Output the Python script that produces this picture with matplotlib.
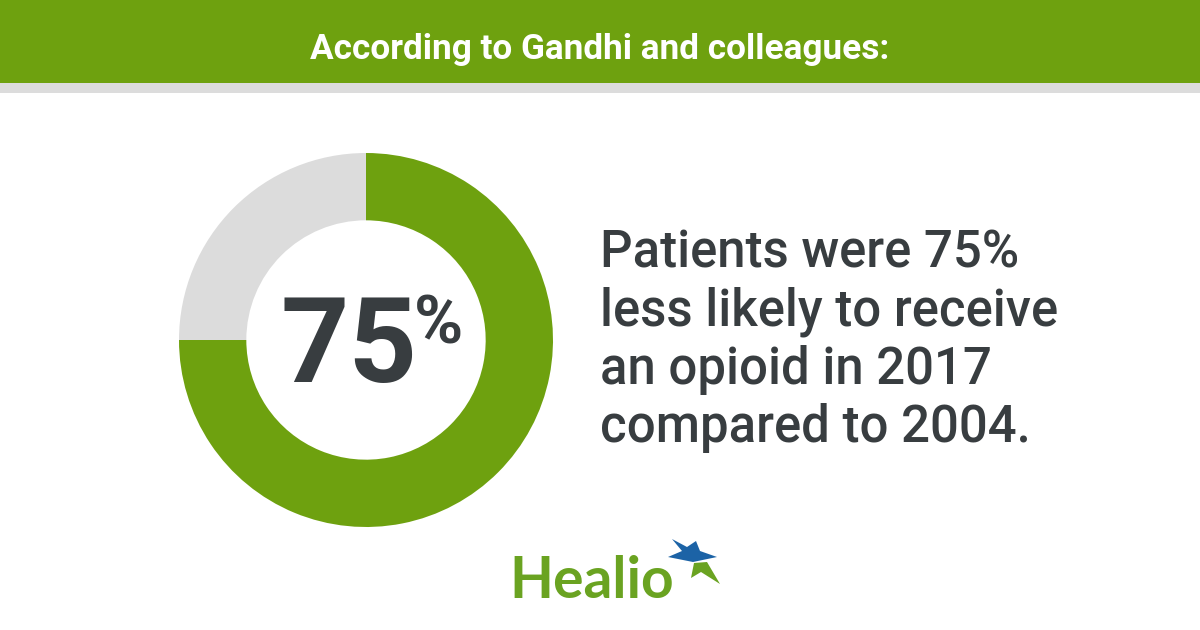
import matplotlib
matplotlib.use("Agg")
import matplotlib.pyplot as plt
import matplotlib.patches as mpatches

# data
shares = [75, 25]
share_names = ["less likely", "rest"]
big_value = "75"
big_unit = "%"
header = "According to Gandhi and colleagues:"
body_lines = [
    "Patients were 75%",
    "less likely to receive",
    "an opioid in 2017",
    "compared to 2004.",
]
brand = "Healio"

GREEN = "#6ea10f"
GREY = "#dcdcdc"
DARK = "#383d40"
LOGO_GREEN = "#6aa321"
LOGO_BLUE = "#1c63a6"

W, H = 1200, 630
fig = plt.figure(figsize=(W / 100, H / 100), dpi=100)
fig.patch.set_facecolor("white")

# background axes in pixel units (y downwards)
bg = fig.add_axes([0, 0, 1, 1])
bg.set_xlim(0, W)
bg.set_ylim(H, 0)
bg.axis("off")

bg.add_patch(mpatches.Rectangle((0, 0), W, 83, color=GREEN, lw=0))
bg.add_patch(mpatches.Rectangle((0, 83), W, 10, color=GREY, lw=0))
bg.text(600, 59, header, ha="center", va="baseline", color="white",
        fontsize=25.3, fontweight="bold", family="Roboto")

# donut
cx, cy, r = 366, 340, 187
pie_ax = fig.add_axes([(cx - r) / W, (H - cy - r) / H, 2 * r / W, 2 * r / H])
pie_ax.pie(shares, colors=[GREEN, GREY], startangle=90, counterclock=False,
           radius=1, wedgeprops=dict(width=0.36, linewidth=0))
pie_ax.set_xlim(-1, 1)
pie_ax.set_ylim(-1, 1)
pie_ax.axis("off")

bg.text(280, 382, big_value, ha="left", va="baseline", color=DARK,
        fontsize=86, fontweight="bold", family="Roboto", zorder=5)
bg.text(414, 343, big_unit, ha="left", va="baseline", color=DARK,
        fontsize=48, fontweight="bold", family="Roboto", zorder=5)

# statement text
for i, line in enumerate(body_lines):
    bg.text(600, 267 + i * 58.3, line, ha="left", va="baseline", color=DARK,
            fontsize=36.6, fontweight="medium", family="Roboto")

# logo
bg.text(509, 598, brand, ha="left", va="baseline", color=LOGO_GREEN,
        fontsize=41, fontweight="bold", family="Lato")
blue_star = [(668, 557), (682, 551), (672, 539), (687, 547), (696, 541),
             (700, 551), (717, 557), (693, 562)]
green_star = [(694, 563), (707, 562), (720, 584), (701, 572), (691, 578)]
bg.add_patch(mpatches.Polygon(blue_star, closed=True, color=LOGO_BLUE, lw=0))
bg.add_patch(mpatches.Polygon(green_star, closed=True, color=LOGO_GREEN, lw=0))

fig.savefig("out.png", dpi=100, facecolor="white")
